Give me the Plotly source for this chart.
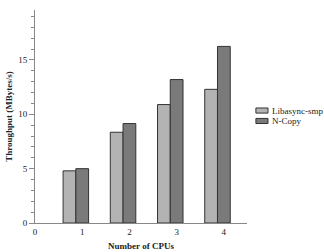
import plotly.graph_objects as go

cpus = [1, 2, 3, 4]
libasync = [4.8, 8.35, 10.9, 12.3]
ncopy = [5.0, 9.15, 13.2, 16.25]
x_ticks = [0, 1, 2, 3, 4]
y_ticks = [0, 5, 10, 15]
series_names = ["Libasync-smp", "N-Copy"]
series_colors = ["#b3b3b3", "#7a7a7a"]
edge_color = "#333333"

font_family = "Liberation Serif, Times New Roman, serif"
bw = 0.27

fig = go.Figure()
for vals, name, col, off in [(libasync, series_names[0], series_colors[0], -1.5 * bw),
                             (ncopy, series_names[1], series_colors[1], -0.5 * bw)]:
    fig.add_trace(go.Bar(x=cpus, y=vals, name=name, width=bw, offset=off,
                         marker=dict(color=col, line=dict(color=edge_color, width=1))))

# custom legend (small rectangular swatches like the reference)
leg_rows = [(0.516, 0.540), (0.467, 0.491)]
for (y0, y1), name, col in zip(leg_rows, series_names, series_colors):
    fig.add_shape(type="rect", xref="paper", yref="paper", x0=1.042, x1=1.099,
                  y0=y0, y1=y1, fillcolor=col, line=dict(color=edge_color, width=1))
    fig.add_annotation(xref="paper", yref="paper", x=1.112, y=(y0 + y1) / 2,
                       text=name, showarrow=False, xanchor="left", yanchor="middle",
                       borderpad=0,
                       font=dict(size=9, family=font_family, color="#222"))

fig.update_layout(
    width=324, height=252,
    margin=dict(l=35, r=77, t=10, b=29),
    paper_bgcolor="white", plot_bgcolor="white",
    font=dict(family=font_family, size=9, color="#222"),
    barmode="overlay",
    showlegend=False,
    xaxis=dict(range=[0, 4.49], tickvals=x_ticks, ticktext=[str(v) for v in x_ticks],
               showline=True, linecolor="#888", linewidth=1, ticks="", showgrid=False,
               zeroline=False, tickfont=dict(size=9), automargin=False,
               title=dict(text="<b>Number of CPUs</b>", font=dict(size=9), standoff=6)),
    yaxis=dict(range=[0, 19.6], tickvals=y_ticks, showline=True, linecolor="#888",
               linewidth=1, ticks="outside", ticklen=5, tickcolor="#888", showgrid=False,
               zeroline=False, tickfont=dict(size=9), automargin=False,
               minor=dict(dtick=1, ticks="outside", ticklen=3, tickcolor="#888"),
               title=dict(text="<b>Throughput (MBytes/s)</b>", font=dict(size=9), standoff=4)),
)

fig.write_html("out.html")
